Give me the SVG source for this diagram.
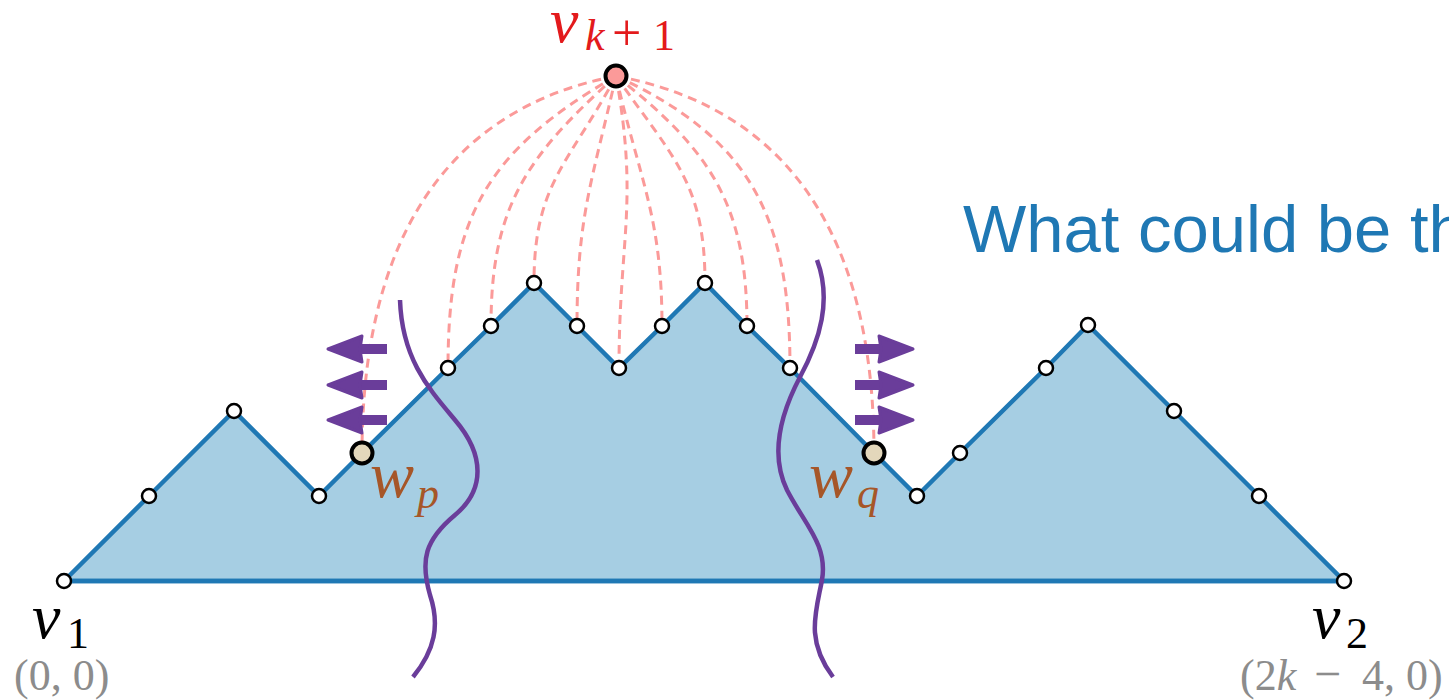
<svg xmlns="http://www.w3.org/2000/svg" width="1449" height="700" viewBox="0 0 1449 700">
<style>
.poly{fill:#a6cee3;stroke:#1f78b4;stroke-width:4.5;stroke-linejoin:miter}
.base{stroke:#1f78b4;stroke-width:4.5;fill:none}
.dash{fill:none;stroke:#fb9a99;stroke-width:3;stroke-dasharray:9 6}
.wave{fill:none;stroke:#6a3d9a;stroke-width:4.5;stroke-linecap:butt}
.shaft{stroke:#6a3d9a;stroke-width:10;fill:none}
.head{fill:#6a3d9a;stroke:#6a3d9a;stroke-width:3;stroke-linejoin:round}
.pt{fill:#fff;stroke:#000;stroke-width:2.5}
.big{fill:#e3d7bb;stroke:#000;stroke-width:4}
.top{fill:#fb9a99;stroke:#000;stroke-width:4}
.math{font-family:"Liberation Serif","DejaVu Serif",serif}
.it{font-style:italic}
.gray{fill:#8c8c8c}
</style>
<rect width="1449" height="700" fill="#fff"/>
<g id="polygon">
<polygon class="poly" points="64,581 149,496 234,411 319,496 362,453 448,368 491,326 534,283 577,326 619,368 662,326 705,283 747,326 790,368 874,453 917,496 960,453 1046,368 1088,325 1174,411 1259,496 1344,581"/>
<line class="base" x1="64" y1="581" x2="1344" y2="581"/>
</g>
<g id="connectors">
<path class="dash" d="M616,76 C430,112 362,263 362,453"/>
<path class="dash" d="M616,76 C486,151 448,218 448,368"/>
<path class="dash" d="M616,76 C527,156 491,206 491,326"/>
<path class="dash" d="M616,76 C569,164 534,183 534,283"/>
<path class="dash" d="M616,76 C592,182 577,216 577,326"/>
<path class="dash" d="M616,76 C639,204 619,238 619,368"/>
<path class="dash" d="M616,76 C640,182 662,216 662,326"/>
<path class="dash" d="M616,76 C673,158 705,183 705,283"/>
<path class="dash" d="M616,76 C711,150 747,206 747,326"/>
<path class="dash" d="M616,76 C752,139 790,218 790,368"/>
<path class="dash" d="M616,76 C808,112 874,263 874,453"/>
</g>
<g id="cuts">
<path class="wave" d="M400,300 C402,360 430,390 455,420 C485,455 485,490 455,515 C425,540 420,560 430,595 C440,625 435,650 413,677"/>
<path class="wave" d="M817,260 C832,300 820,340 800,377 C780,415 770,455 787,490 C805,525 828,545 822,580 C816,612 805,640 833,677"/>
</g>
<g id="arrows-left">
<line class="shaft" x1="387" y1="349" x2="358" y2="349"/>
<path class="head" d="M328,349 L362,336 L360,349 L362,362 Z"/>
<line class="shaft" x1="387" y1="385" x2="358" y2="385"/>
<path class="head" d="M328,385 L362,372 L360,385 L362,398 Z"/>
<line class="shaft" x1="387" y1="420" x2="358" y2="420"/>
<path class="head" d="M328,420 L362,407 L360,420 L362,433 Z"/>
</g>
<g id="arrows-right">
<line class="shaft" x1="855" y1="349" x2="884" y2="349"/>
<path class="head" d="M913,349 L879,336 L881,349 L879,362 Z"/>
<line class="shaft" x1="855" y1="385" x2="884" y2="385"/>
<path class="head" d="M913,385 L879,372 L881,385 L879,398 Z"/>
<line class="shaft" x1="855" y1="420" x2="884" y2="420"/>
<path class="head" d="M913,420 L879,407 L881,420 L879,433 Z"/>
</g>
<g id="vertices">
<circle class="pt" cx="64" cy="581" r="7"/>
<circle class="pt" cx="149" cy="496" r="7"/>
<circle class="pt" cx="234" cy="411" r="7"/>
<circle class="pt" cx="319" cy="496" r="7"/>
<circle class="pt" cx="448" cy="368" r="7"/>
<circle class="pt" cx="491" cy="326" r="7"/>
<circle class="pt" cx="534" cy="283" r="7"/>
<circle class="pt" cx="577" cy="326" r="7"/>
<circle class="pt" cx="619" cy="368" r="7"/>
<circle class="pt" cx="662" cy="326" r="7"/>
<circle class="pt" cx="705" cy="283" r="7"/>
<circle class="pt" cx="747" cy="326" r="7"/>
<circle class="pt" cx="790" cy="368" r="7"/>
<circle class="pt" cx="917" cy="496" r="7"/>
<circle class="pt" cx="960" cy="453" r="7"/>
<circle class="pt" cx="1046" cy="368" r="7"/>
<circle class="pt" cx="1088" cy="325" r="7"/>
<circle class="pt" cx="1174" cy="411" r="7"/>
<circle class="pt" cx="1259" cy="496" r="7"/>
<circle class="pt" cx="1344" cy="581" r="7"/>
</g>
<g id="node-wp">
<circle class="big" cx="362" cy="453" r="10.5"/>
<text class="math it" x="370" y="497" font-size="66" fill="#a65628">w</text>
<text class="math it" x="417" y="508" font-size="44" fill="#a65628">p</text>
</g>
<g id="node-wq">
<circle class="big" cx="874" cy="453" r="10.5"/>
<text class="math it" x="809" y="497" font-size="66" fill="#a65628">w</text>
<text class="math it" x="857" y="508" font-size="44" fill="#a65628">q</text>
</g>
<g id="node-vk1">
<circle class="top" cx="616" cy="76" r="10.5"/>
<text class="math it" x="550" y="42" font-size="64" fill="#e31a1c">v</text>
<text class="math" y="50" font-size="44" fill="#e31a1c"><tspan class="it" x="585">k</tspan><tspan x="612" font-size="52">+</tspan><tspan x="653">1</tspan></text>
</g>
<g id="node-v1">
<text class="math it" x="32" y="638" font-size="64" fill="#000">v</text>
<text class="math" x="67" y="648" font-size="44" fill="#000">1</text>
<text class="math gray" x="14" y="690" font-size="44">(0, 0)</text>
</g>
<g id="node-v2">
<text class="math it" x="1312" y="638" font-size="64" fill="#000">v</text>
<text class="math" x="1346" y="648" font-size="44" fill="#000">2</text>
<text class="math gray" y="690" font-size="44"><tspan x="1240">(2</tspan><tspan class="it">k</tspan><tspan x="1314" font-size="48">−</tspan><tspan x="1362">4, 0)</tspan></text>
</g>
<text x="963" y="252" font-family="Liberation Sans, Arial, sans-serif" font-size="67" fill="#1f78b4">What could be th</text>
</svg>
